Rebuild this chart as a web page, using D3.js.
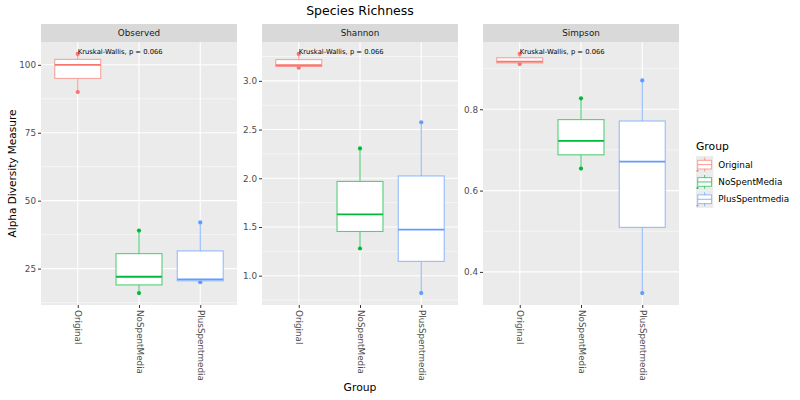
<!DOCTYPE html>
<html>
<head>
<meta charset="utf-8">
<script src="https://cdn.jsdelivr.net/npm/d3@7"></script>
<style>
  body { margin: 0; background: #fff; }
  text { font-family: "DejaVu Sans", sans-serif; }
</style>
</head>
<body>
<div id="chart"></div>
<script>
// data: three samples per group
var groups = ["Original", "NoSpentMedia", "PlusSpentmedia"];
var colours = ["#F8766D", "#00BA38", "#619CFF"];
var metrics = ["Observed", "Shannon", "Simpson"];

var observed = [[90, 100, 104], [16, 22, 39], [20, 21, 42]];
var shannon = [[3.135, 3.16, 3.276], [1.279, 1.629, 2.306], [0.822, 1.472, 2.575]];
var simpson = [[0.911, 0.917, 0.936], [0.654, 0.722, 0.827], [0.348, 0.671, 0.871]];

var observedTicks = [25, 50, 75, 100];
var shannonTicks = [1.0, 1.5, 2.0, 2.5, 3.0];
var simpsonTicks = [0.4, 0.6, 0.8];
var pLabel = "Kruskal-Wallis, p = 0.066";

var values = [observed, shannon, simpson];
var ticks = [observedTicks, shannonTicks, simpsonTicks];
var tickFormats = [d3.format("d"), d3.format(".1f"), d3.format(".1f")];

var W = 800, H = 400;
var panelLeft = [41, 262, 483];
var panelW = 196;
var stripTop = 24, panelTop = 42, panelBottom = 305;

var svg = d3.select("#chart").append("svg")
  .attr("width", W)
  .attr("height", H);

svg.append("text")
  .attr("x", 360).attr("y", 15)
  .attr("text-anchor", "middle")
  .style("font-size", "12.5px")
  .attr("fill", "#000")
  .text("Species Richness");

metrics.forEach(function(m, i) {
  var x0 = panelLeft[i];
  var data = values[i];
  var all = d3.merge(data);
  var ext = d3.extent(all);
  var pad = (ext[1] - ext[0]) * 0.05;

  var x = d3.scalePoint()
    .domain(groups)
    .range([x0, x0 + panelW])
    .padding(0.6);
  var step = x.step();

  var y = d3.scaleLinear()
    .domain([ext[0] - pad, ext[1] + pad])
    .range([panelBottom, panelTop]);

  var g = svg.append("g");

  // strip
  g.append("rect")
    .attr("x", x0).attr("y", stripTop)
    .attr("width", panelW).attr("height", panelTop - stripTop)
    .attr("fill", "#D9D9D9");
  g.append("text")
    .attr("x", x0 + panelW / 2).attr("y", (stripTop + panelTop) / 2)
    .attr("text-anchor", "middle")
    .attr("dominant-baseline", "central")
    .style("font-size", "8.8px")
    .attr("fill", "#1A1A1A")
    .text(m);

  // panel
  g.append("rect")
    .attr("x", x0).attr("y", panelTop)
    .attr("width", panelW).attr("height", panelBottom - panelTop)
    .attr("fill", "#EBEBEB");

  var tk = ticks[i];
  var minor = [];
  var d = tk[1] - tk[0];
  for (var k = -1; k < tk.length; k++) {
    var v = tk[0] + d * (k + 0.5);
    if (v > y.domain()[0] && v < y.domain()[1]) minor.push(v);
  }

  g.selectAll(".minor").data(minor).enter().append("line")
    .attr("x1", x0).attr("x2", x0 + panelW)
    .attr("y1", function(v) { return y(v); })
    .attr("y2", function(v) { return y(v); })
    .attr("stroke", "#fff").attr("stroke-width", 0.55);
  g.selectAll(".major").data(tk).enter().append("line")
    .attr("x1", x0).attr("x2", x0 + panelW)
    .attr("y1", function(v) { return y(v); })
    .attr("y2", function(v) { return y(v); })
    .attr("stroke", "#fff").attr("stroke-width", 1.1);
  g.selectAll(".vgrid").data(groups).enter().append("line")
    .attr("x1", function(c) { return x(c); })
    .attr("x2", function(c) { return x(c); })
    .attr("y1", panelTop).attr("y2", panelBottom)
    .attr("stroke", "#fff").attr("stroke-width", 1.1);

  // y axis
  var yAxis = d3.axisLeft(y).tickValues(tk).tickSize(3).tickPadding(2)
    .tickFormat(tickFormats[i]);
  var ya = g.append("g").attr("transform", "translate(" + x0 + ",0)").call(yAxis);
  ya.select(".domain").remove();
  ya.selectAll(".tick line").attr("stroke", "#333").attr("stroke-width", 1);
  ya.selectAll(".tick text").attr("fill", "#4D4D4D")
    .style("font-size", "8.8px")
    .style("font-family", "DejaVu Sans, sans-serif");

  // x axis
  var xAxis = d3.axisBottom(x).tickSize(3).tickPadding(2);
  var xa = g.append("g").attr("transform", "translate(0," + panelBottom + ")").call(xAxis);
  xa.select(".domain").remove();
  xa.selectAll(".tick line").attr("stroke", "#333").attr("stroke-width", 1);
  xa.selectAll(".tick text")
    .attr("fill", "#4D4D4D")
    .style("font-size", "8.8px")
    .style("font-family", "DejaVu Sans, sans-serif")
    .attr("y", 0).attr("dy", null)
    .attr("text-anchor", "start")
    .attr("dominant-baseline", "central")
    .attr("transform", "translate(0,5) rotate(90)");

  // boxplots: points first so the white box hides the middle sample
  data.forEach(function(vals, j) {
    var s = vals.slice().sort(d3.ascending);
    var q1 = d3.quantile(s, 0.25), med = d3.quantile(s, 0.5), q3 = d3.quantile(s, 0.75);
    var cx = x(groups[j]);
    var bw = step * 0.75;
    var col = colours[j];
    var bg = g.append("g");
    bg.selectAll("circle").data(s).enter().append("circle")
      .attr("cx", cx).attr("cy", function(v) { return y(v); })
      .attr("r", 2.1).attr("fill", col);
    bg.append("line")
      .attr("x1", cx).attr("x2", cx)
      .attr("y1", y(q3)).attr("y2", y(s[s.length - 1]))
      .attr("stroke", col).attr("stroke-opacity", 0.7).attr("stroke-width", 1.1);
    bg.append("line")
      .attr("x1", cx).attr("x2", cx)
      .attr("y1", y(q1)).attr("y2", y(s[0]))
      .attr("stroke", col).attr("stroke-opacity", 0.7).attr("stroke-width", 1.1);
    bg.append("rect")
      .attr("x", cx - bw / 2).attr("y", y(q3))
      .attr("width", bw).attr("height", y(q1) - y(q3))
      .attr("fill", "#fff")
      .attr("stroke", col).attr("stroke-opacity", 0.65).attr("stroke-width", 1.1);
    bg.append("line")
      .attr("x1", cx - bw / 2).attr("x2", cx + bw / 2)
      .attr("y1", y(med)).attr("y2", y(med))
      .attr("stroke", col).attr("stroke-width", 1.8);
  });

  g.append("text")
    .attr("x", x(groups[0])).attr("y", y(ext[1]) - 1.5)
    .attr("dominant-baseline", "central")
    .style("font-size", "6.8px")
    .attr("fill", "#000")
    .text(pLabel);
});

// axis titles
svg.append("text")
  .attr("x", 360).attr("y", 391)
  .attr("text-anchor", "middle")
  .style("font-size", "10.8px")
  .text("Group");
svg.append("text")
  .attr("transform", "translate(12," + (panelTop + panelBottom) / 2 + ") rotate(-90)")
  .attr("text-anchor", "middle")
  .attr("dominant-baseline", "central")
  .style("font-size", "10.5px")
  .text("Alpha Diversity Measure");

// legend
var lg = svg.append("g").attr("transform", "translate(696,0)");
lg.append("text")
  .attr("x", 0).attr("y", 150)
  .style("font-size", "10.8px")
  .text("Group");
var key = 17.3, keyTop = 156;
groups.forEach(function(gname, j) {
  var ky = keyTop + j * key;
  var col = colours[j];
  lg.append("rect").attr("x", 0).attr("y", ky).attr("width", key).attr("height", key)
    .attr("fill", "#EBEBEB");
  lg.append("line").attr("x1", key / 2).attr("x2", key / 2)
    .attr("y1", ky + key * 0.1).attr("y2", ky + key * 0.9)
    .attr("stroke", col).attr("stroke-opacity", 0.7);
  lg.append("rect").attr("x", key * 0.1).attr("y", ky + key * 0.25)
    .attr("width", key * 0.8).attr("height", key * 0.5)
    .attr("fill", "#fff").attr("stroke", col).attr("stroke-opacity", 0.65);
  lg.append("line").attr("x1", key * 0.1).attr("x2", key * 0.9)
    .attr("y1", ky + key / 2).attr("y2", ky + key / 2)
    .attr("stroke", col).attr("stroke-opacity", 0.75).attr("stroke-width", 1);
  lg.append("circle").attr("cx", 1.5).attr("cy", ky + key - 2.5).attr("r", 1)
    .attr("fill", col);
  lg.append("text")
    .attr("x", key + 5).attr("y", ky + key / 2)
    .attr("dominant-baseline", "central")
    .style("font-size", "8.8px")
    .text(gname);
});
</script>
</body>
</html>
